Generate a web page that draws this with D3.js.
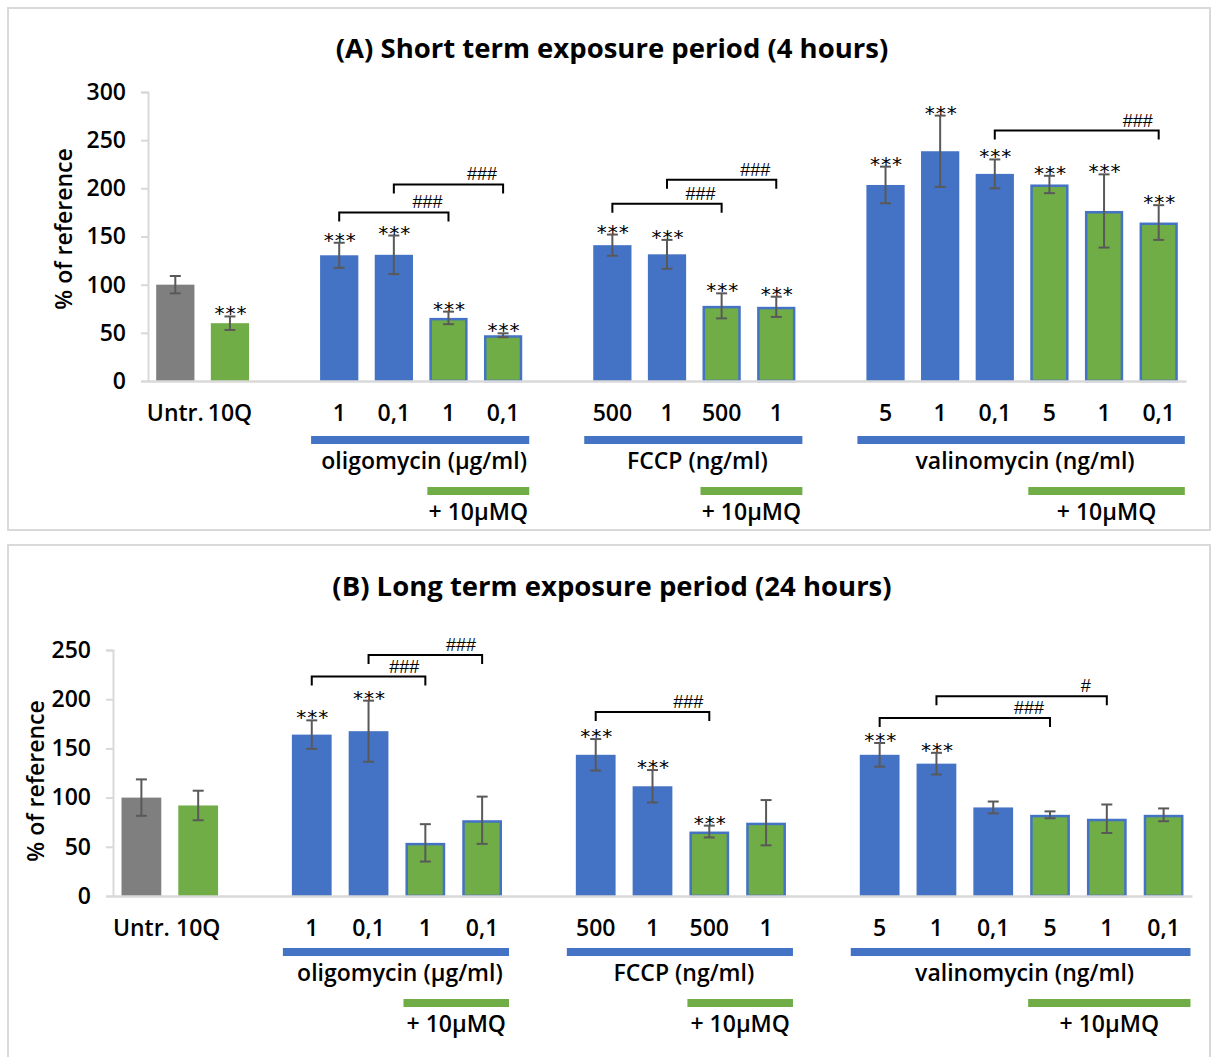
<!DOCTYPE html>
<html>
<head>
<meta charset="utf-8">
<script src="https://cdn.jsdelivr.net/npm/d3@7"></script>
<style>
  body { margin: 0; background: #fff; }
  svg { display: block; font-family: "Open Sans", sans-serif; }
</style>
</head>
<body>
<svg id="chart" width="1212" height="1057"></svg>
<script>
// category slots (gaps are empty slots, like in the Excel sheet)
const slotKeys = ["untr", "q10", "g1", "oli1", "oli01", "oli1mq", "oli01mq", "g2",
  "fc500", "fc1", "fc500mq", "fc1mq", "g3", "va5", "va1", "va01", "va5mq", "va1mq", "va01mq"];
const tickLabels = ["Untr.", "10Q", "", "1", "0,1", "1", "0,1", "",
  "500", "1", "500", "1", "", "5", "1", "0,1", "5", "1", "0,1"];
const slotKind = ["ctrl", "q", "gap", "drug", "drug", "mq", "mq", "gap",
  "drug", "drug", "mq", "mq", "gap", "drug", "drug", "drug", "mq", "mq", "mq"];

// (A) 4 hours
const shortMeans = [100, 60, null, 130.5, 131, 65.5, 47.5, null,
  141, 131.5, 78, 77, null, 203.5, 238.5, 215, 204, 176.5, 164.5];
const shortErr = [9, 7, null, 13, 20, 6.5, 2, null,
  11, 15, 13, 10.5, null, 19, 37, 15, 9, 38, 18];
const shortStars = ["", "***", "", "***", "***", "***", "***", "",
  "***", "***", "***", "***", "", "***", "***", "***", "***", "***", "***"];
const shortBrackets = [
  { from: "oli1", to: "oli1mq", value: 175, label: "###" },
  { from: "oli01", to: "oli01mq", value: 204, label: "###" },
  { from: "fc500", to: "fc500mq", value: 184, label: "###" },
  { from: "fc1", to: "fc1mq", value: 209, label: "###" },
  { from: "va01", to: "va01mq", value: 260, label: "###" }
];

// (B) 24 hours
const longMeans = [100, 92, null, 164, 167.5, 54, 77, null,
  143.5, 111.5, 65.5, 74.5, null, 143.5, 134.5, 90, 82.5, 78.5, 82.5];
const longErr = [18.5, 15, null, 14.5, 31, 19, 24, null,
  16, 16.5, 6, 23, null, 12, 11, 6, 3.5, 14.5, 6.5];
const longStars = ["", "", "", "***", "***", "", "", "",
  "***", "***", "***", "", "", "***", "***", "", "", "", ""];
const longBrackets = [
  { from: "oli1", to: "oli1mq", value: 223, label: "###" },
  { from: "oli01", to: "oli01mq", value: 245, label: "###" },
  { from: "fc500", to: "fc500mq", value: 187, label: "###" },
  { from: "va5", to: "va5mq", value: 181, label: "###" },
  { from: "va1", to: "va1mq", value: 203, label: "#" }
];

const drugGroups = [
  { name: "oligomycin (µg/ml)", first: "oli1", last: "oli01mq", mq: "oli1mq" },
  { name: "FCCP (ng/ml)", first: "fc500", last: "fc1mq", mq: "fc500mq" },
  { name: "valinomycin (ng/ml)", first: "va5", last: "va01mq", mq: "va5mq" }
];

const BLUE = "#4472C4", GREEN = "#70AD47", GREY = "#7F7F7F", ERR = "#595959", AXIS = "#D9D9D9";

const svg = d3.select("#chart");

function drawPanel(p) {
  const g = svg.append("g");

  g.append("rect")
    .attr("x", 8).attr("y", p.boxTop)
    .attr("width", 1202).attr("height", p.boxBottom - p.boxTop)
    .attr("fill", "none").attr("stroke", AXIS).attr("stroke-width", 2);

  g.append("text")
    .attr("x", 612).attr("y", p.titleY)
    .attr("text-anchor", "middle").attr("dominant-baseline", "central")
    .style("font-size", "27.5px").style("font-weight", 700)
    .text(p.title);

  const x = d3.scaleBand().domain(slotKeys).range([p.x0, p.x1]).paddingInner(0.3).paddingOuter(0.15);
  const y = d3.scaleLinear().domain([0, p.max]).range([p.yBottom, p.yTop]);

  const rows = slotKeys.map((k, i) => ({
    key: k, kind: slotKind[i], mean: p.means[i], err: p.err[i], star: p.stars[i]
  })).filter(d => d.mean != null);

  // y axis
  const yAxis = g.append("g")
    .attr("transform", `translate(${p.x0},0)`)
    .call(d3.axisLeft(y).tickValues(d3.range(0, p.max + 1, 50)).tickSize(7).tickPadding(15));
  yAxis.select(".domain").attr("stroke", AXIS).attr("stroke-width", 2);
  yAxis.selectAll(".tick line").attr("stroke", AXIS).attr("stroke-width", 2);
  yAxis.selectAll("text").attr("fill", "#000")
    .style("font-size", "23px").style("font-weight", 600).style("font-family", "Open Sans");

  g.append("text")
    .attr("transform", `translate(${p.yLabelX},${p.yLabelY}) rotate(-90)`)
    .attr("text-anchor", "middle").attr("dominant-baseline", "central")
    .style("font-size", "23px").style("font-weight", 600)
    .text("% of reference");

  // bars
  g.selectAll(".bar").data(rows).enter().append("rect")
    .attr("x", d => x(d.key) + (d.kind === "mq" ? 1.25 : 0))
    .attr("y", d => y(d.mean) + (d.kind === "mq" ? 1.25 : 0))
    .attr("width", d => x.bandwidth() - (d.kind === "mq" ? 2.5 : 0))
    .attr("height", d => y(0) - y(d.mean) - (d.kind === "mq" ? 1.25 : 0))
    .attr("fill", d => d.kind === "ctrl" ? GREY : (d.kind === "drug" ? BLUE : GREEN))
    .attr("stroke", d => d.kind === "mq" ? BLUE : "none")
    .attr("stroke-width", 2.5);

  // x baseline and labels
  const xAxis = g.append("g")
    .attr("transform", `translate(0,${p.yBottom})`)
    .call(d3.axisBottom(x).tickSize(0).tickPadding(24).tickFormat((k, i) => tickLabels[i]));
  xAxis.select(".domain").attr("stroke", AXIS).attr("stroke-width", 2.5);
  xAxis.selectAll("text").attr("fill", "#000")
    .style("font-size", "23px").style("font-weight", 600).style("font-family", "Open Sans");

  // error bars
  const cap = 5.5;
  const eb = g.selectAll(".err").data(rows).enter().append("g")
    .attr("stroke", ERR).attr("stroke-width", 2);
  eb.append("line")
    .attr("x1", d => x(d.key) + x.bandwidth() / 2).attr("x2", d => x(d.key) + x.bandwidth() / 2)
    .attr("y1", d => y(d.mean + d.err)).attr("y2", d => y(d.mean - d.err));
  eb.append("line")
    .attr("x1", d => x(d.key) + x.bandwidth() / 2 - cap).attr("x2", d => x(d.key) + x.bandwidth() / 2 + cap)
    .attr("y1", d => y(d.mean + d.err)).attr("y2", d => y(d.mean + d.err));
  eb.append("line")
    .attr("x1", d => x(d.key) + x.bandwidth() / 2 - cap).attr("x2", d => x(d.key) + x.bandwidth() / 2 + cap)
    .attr("y1", d => y(d.mean - d.err)).attr("y2", d => y(d.mean - d.err));

  // significance stars
  g.selectAll(".star").data(rows.filter(d => d.star)).enter().append("text")
    .attr("x", d => x(d.key) + x.bandwidth() / 2 + 1)
    .attr("y", d => y(d.mean + d.err) + 4)
    .attr("text-anchor", "middle")
    .style("font-size", "20px").style("font-family", "DejaVu Sans").style("letter-spacing", "1px")
    .text(d => d.star);

  // comparison brackets
  const mid = k => x(k) + x.bandwidth() / 2;
  const br = g.selectAll(".bracket").data(p.brackets).enter().append("g");
  br.append("path")
    .attr("d", d => `M${mid(d.from)},${y(d.value) + 9}V${y(d.value)}H${mid(d.to)}V${y(d.value) + 9}`)
    .attr("fill", "none").attr("stroke", "#000").attr("stroke-width", 2);
  br.append("text")
    .attr("x", d => mid(d.to) - 21)
    .attr("y", d => y(d.value) - 4)
    .attr("text-anchor", "middle")
    .style("font-size", "18px").style("font-family", "Liberation Sans Narrow, Liberation Sans")
    .text(d => d.label);

  // treatment bars under the axis
  drugGroups.forEach(dg => {
    const bx0 = x(dg.first) - 9;
    const bx1 = x(dg.last) + x.bandwidth() + 7;
    const gx0 = x(dg.mq) - 2;
    g.append("rect").attr("x", bx0).attr("y", p.yBottom + p.drugBarDy)
      .attr("width", bx1 - bx0).attr("height", 8).attr("fill", BLUE);
    g.append("text").attr("x", (bx0 + bx1) / 2 + 4).attr("y", p.yBottom + p.drugBarDy + 24)
      .attr("text-anchor", "middle").attr("dominant-baseline", "central")
      .style("font-size", "23px").style("font-weight", 600)
      .text(dg.name);
    g.append("rect").attr("x", gx0).attr("y", p.yBottom + p.drugBarDy + 51)
      .attr("width", bx1 - gx0).attr("height", 8).attr("fill", GREEN);
    g.append("text").attr("x", (gx0 + bx1) / 2).attr("y", p.yBottom + p.drugBarDy + 75)
      .attr("text-anchor", "middle").attr("dominant-baseline", "central")
      .style("font-size", "23px").style("font-weight", 600)
      .text("+ 10µMQ");
  });
}

drawPanel({
  title: "(A) Short term exposure period (4 hours)",
  boxTop: 8, boxBottom: 530, titleY: 47,
  x0: 148, x1: 1186, yTop: 92, yBottom: 381, max: 300, yLabelX: 63, yLabelY: 229, drugBarDy: 55,
  means: shortMeans, err: shortErr, stars: shortStars, brackets: shortBrackets
});

drawPanel({
  title: "(B) Long term exposure period (24 hours)",
  boxTop: 545, boxBottom: 1064, titleY: 585,
  x0: 113, x1: 1192, yTop: 650, yBottom: 896, max: 250, yLabelX: 35, yLabelY: 781, drugBarDy: 52,
  means: longMeans, err: longErr, stars: longStars, brackets: longBrackets
});
</script>
</body>
</html>
